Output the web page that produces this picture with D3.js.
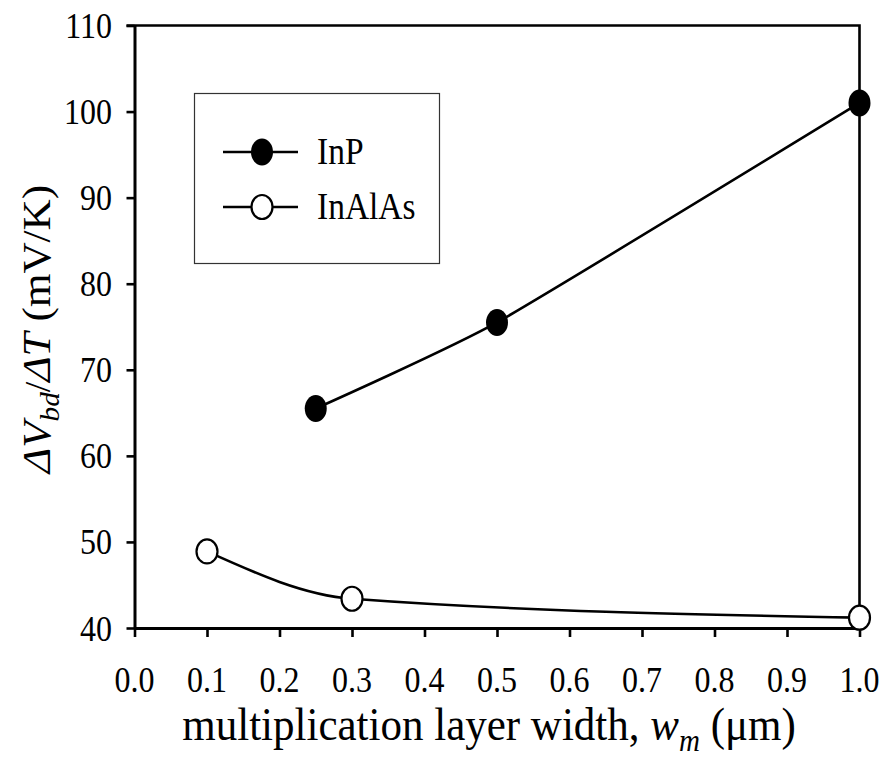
<!DOCTYPE html>
<html>
<head>
<meta charset="utf-8">
<script src="https://cdn.jsdelivr.net/npm/d3@7/dist/d3.min.js"></script>
<style>
  html, body { margin: 0; padding: 0; background: #fff; }
  svg { display: block; }
  text { font-family: "Liberation Serif", "Times New Roman", "DejaVu Serif", serif; fill: #000; }
</style>
</head>
<body>
<svg id="chart" width="887" height="762"></svg>
<script>
// ---- data ----
const inpX = [0.25, 0.5, 1.0];
const inpY = [65.5, 75.5, 101.0];
const inalasX = [0.1, 0.3, 1.0];
const inalasY = [48.9, 43.4, 41.2];
const xTicks = [0.0, 0.1, 0.2, 0.3, 0.4, 0.5, 0.6, 0.7, 0.8, 0.9, 1.0];
const yTicks = [40, 50, 60, 70, 80, 90, 100, 110];
const seriesNames = ["InP", "InAlAs"];

const svg = d3.select("#chart");
const L = 134.5, R = 859.5, T = 25.5, B = 628;
const x = d3.scaleLinear().domain([0, 1]).range([L, R]);
const y = d3.scaleLinear().domain([40, 110]).range([B, T]);

// frame (top and right)
svg.append("path")
  .attr("d", `M${L - 8},${T} H${R} V${B}`)
  .attr("fill", "none").attr("stroke", "#000").attr("stroke-width", 2.6);

// axes
const gx = svg.append("g").attr("transform", `translate(0,${B})`)
  .call(d3.axisBottom(x).tickValues(xTicks).tickSize(9).tickSizeOuter(0).tickFormat(""));
const gy = svg.append("g").attr("transform", `translate(${L},0)`)
  .call(d3.axisLeft(y).tickValues(yTicks).tickSize(8).tickSizeOuter(0).tickFormat(""));
[gx, gy].forEach(g => {
  g.select(".domain").attr("stroke", "#000").attr("stroke-width", 3);
  g.selectAll(".tick line").attr("stroke", "#000").attr("stroke-width", 2.6);
});

// tick labels
const sy = 1.15;
svg.append("g").selectAll("text").data(xTicks).join("text")
  .attr("transform", d => `translate(${x(d)},692) scale(1,${sy})`)
  .attr("text-anchor", "middle")
  .attr("font-size", 32)
  .text(d => d3.format(".1f")(d));
svg.append("g").selectAll("text").data(yTicks).join("text")
  .attr("transform", d => `translate(112,${y(d) + 12.5}) scale(1,${sy})`)
  .attr("text-anchor", "end")
  .attr("font-size", 32)
  .text(d => d);

// lines
const inp = inpX.map((v, i) => [v, inpY[i]]);
const inalas = inalasX.map((v, i) => [v, inalasY[i]]);
const lineInp = d3.line().x(d => x(d[0])).y(d => y(d[1])).curve(d3.curveCardinal.tension(0.5));
const lineInalas = d3.line().x(d => x(d[0])).y(d => y(d[1])).curve(d3.curveMonotoneX);
svg.append("path").datum(inp).attr("d", lineInp)
  .attr("fill", "none").attr("stroke", "#000").attr("stroke-width", 2.6);
svg.append("path").datum(inalas).attr("d", lineInalas)
  .attr("fill", "none").attr("stroke", "#000").attr("stroke-width", 2.6);

// markers
svg.append("g").selectAll("ellipse").data(inp).join("ellipse")
  .attr("cx", d => x(d[0])).attr("cy", d => y(d[1]))
  .attr("rx", 11).attr("ry", 13.5).attr("fill", "#000");
svg.append("g").selectAll("ellipse").data(inalas).join("ellipse")
  .attr("cx", d => x(d[0])).attr("cy", d => y(d[1]))
  .attr("rx", 10.5).attr("ry", 12).attr("fill", "#fff")
  .attr("stroke", "#000").attr("stroke-width", 2.2);

// legend
const lg = svg.append("g");
lg.append("rect").attr("x", 194.5).attr("y", 93.5).attr("width", 245).attr("height", 170)
  .attr("fill", "#fff").attr("stroke", "#333").attr("stroke-width", 1.2);
const legendY = [152, 207];
seriesNames.forEach((name, i) => {
  const yy = legendY[i];
  lg.append("line").attr("x1", 223).attr("x2", 298).attr("y1", yy).attr("y2", yy)
    .attr("stroke", "#000").attr("stroke-width", 2.6);
  const e = lg.append("ellipse").attr("cx", 262).attr("cy", yy);
  if (i === 0) e.attr("rx", 11).attr("ry", 13.5).attr("fill", "#000");
  else e.attr("rx", 10.5).attr("ry", 12).attr("fill", "#fff").attr("stroke", "#000").attr("stroke-width", 2.2);
  lg.append("text").attr("transform", `translate(317,${yy + 12}) scale(1,1.12)`)
    .attr("font-size", 33.5).text(name);
});

// x-axis label
const xl = svg.append("text")
  .attr("transform", `translate(489,740) scale(1,1.06)`)
  .attr("text-anchor", "middle").attr("font-size", 43);
xl.append("tspan").text("multiplication layer width, ");
xl.append("tspan").attr("font-style", "italic").text("w");
xl.append("tspan").attr("font-style", "italic").attr("font-size", 29).attr("dy", 10).text("m");
xl.append("tspan").attr("dy", -10).text(" (μm)");

// y-axis label
const yl = svg.append("text")
  .attr("transform", `translate(50,329) rotate(-90) scale(1.08,1)`)
  .attr("text-anchor", "middle").attr("font-size", 40);
yl.append("tspan").attr("font-style", "italic").text("ΔV");
yl.append("tspan").attr("font-style", "italic").attr("font-size", 27).attr("dy", 9).text("bd");
yl.append("tspan").attr("dy", -9).attr("font-size", 35).text("/");
yl.append("tspan").attr("font-style", "italic").text("ΔT");
yl.append("tspan").text(" (mV/K)");
</script>
</body>
</html>
